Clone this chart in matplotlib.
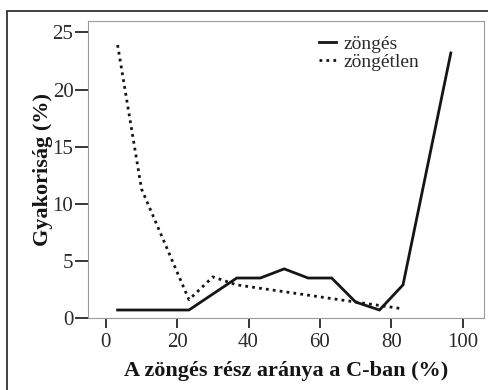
"""Frequency of voiced share within C, voiced vs. voiceless (scanned figure recreation)."""

import matplotlib

matplotlib.use("Agg")
import matplotlib.pyplot as plt
from matplotlib.patches import Rectangle

# bin centres (% voiced part of C)
x_zonges = [3.3, 10.0, 16.7, 23.3, 36.7, 43.3, 50.0, 56.7, 63.3, 70.0, 76.7, 83.3, 96.7]
y_zonges = [0.7, 0.7, 0.7, 0.7, 3.5, 3.5, 4.3, 3.5, 3.5, 1.4, 0.7, 2.9, 23.2]

x_zongetlen = [3.3, 10.0, 23.3, 30.0, 36.7, 43.3, 50.0, 56.7, 63.3, 70.0, 76.7, 83.3]
y_zongetlen = [23.9, 11.3, 1.6, 3.6, 2.9, 2.6, 2.3, 2.0, 1.7, 1.4, 1.1, 0.8]

xticks = [0, 20, 40, 60, 80, 100]
yticks = [0, 5, 10, 15, 20, 25]

plt.rcParams["font.family"] = ["Liberation Serif", "DejaVu Serif"]

fig = plt.figure(figsize=(4.89, 3.90), dpi=100)
ax = fig.add_axes([88 / 489, 72 / 390, 396 / 489, 297 / 390])

# outer frame of the scanned figure
fig.patches.append(Rectangle((7 / 489, -0.02), 1.0, 1 - 11 / 390 + 0.02,
                             transform=fig.transFigure, fill=False,
                             edgecolor="#333333", linewidth=1.3))

ink = "#151515"
ax.plot(x_zonges, y_zonges, color=ink, lw=2.0, solid_joinstyle="miter",
        label="zöngés")
ax.plot(x_zongetlen, y_zongetlen, color=ink, lw=2.0, linestyle=(0, (1, 1.5)),
        label="zöngétlen")

ax.set_xlim(-5, 106)
ax.set_ylim(0, 26)
ax.set_xticks(xticks)
ax.set_yticks(yticks)
ax.tick_params(axis="both", direction="out", colors=ink, labelcolor="#2a2a2a",
               labelsize=15, width=1.2)
ax.tick_params(axis="x", length=7, pad=4)
ax.tick_params(axis="y", length=9.5, pad=1)
for s in ax.spines.values():
    s.set_color("#9a9a9a")
    s.set_linewidth(0.8)

ax.set_xlabel("A zöngés rész aránya a C-ban (%)", fontsize=16, fontweight="bold",
              color=ink, labelpad=6)
ax.set_ylabel("Gyakoriság (%)", fontsize=16, fontweight="bold", color=ink,
              labelpad=0)

leg = ax.legend(loc="upper left", bbox_to_anchor=(0.555, 0.99), frameon=False,
                fontsize=14, handlelength=0.85, handletextpad=0.4,
                labelspacing=0.0, borderaxespad=0.2)
for t in leg.get_texts():
    t.set_color("#2a2a2a")

fig.savefig("out.png", dpi=100)
